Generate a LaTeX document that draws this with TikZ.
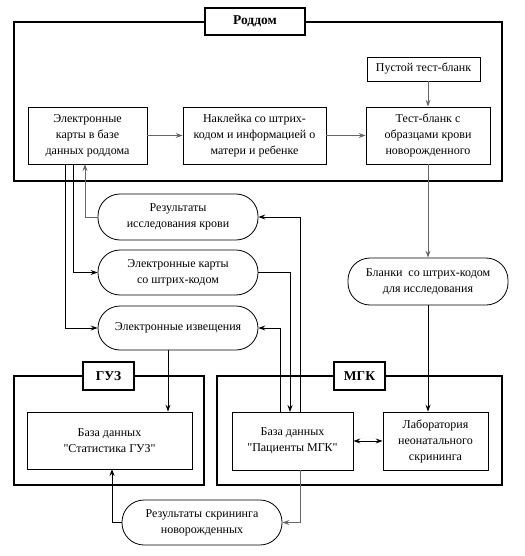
\documentclass[tikz,border=0pt]{standalone}
\usepackage{fontspec}
\setmainfont{Liberation Serif}
\newfontfamily\diagfont{Liberation Serif}
\usetikzlibrary{arrows.meta}
\begin{document}
\begin{tikzpicture}[x=1pt,y=-1pt,
  font=\diagfont\fontsize{12}{16}\selectfont,
  >={Stealth[length=7pt,width=5pt,inset=2.5pt]},
  box/.style={draw,line width=0.8pt,fill=white,align=center,inner sep=0pt},
  term/.style={draw,line width=0.8pt,fill=white,align=center,inner sep=0pt,rounded corners=22pt,minimum width=160pt},
  outer/.style={draw,line width=2.2pt,inner sep=0pt},
  title/.style={draw,line width=2pt,fill=white,inner sep=0pt,font=\diagfont\fontsize{13.5}{15}\selectfont\bfseries},
  arr/.style={->,line width=0.8pt},
  garr/.style={->,line width=0.9pt,draw=black!60},
  gline/.style={line width=0.9pt,draw=black!60}]
\useasboundingbox (0,0) rectangle (524,556);
% Роддом
\node[outer,minimum width=488pt,minimum height=159pt] (rod) at (258,101.5) {};
\node[title,minimum width=100pt,minimum height=27pt] (rodt) at (255,21.5) {Роддом};
\node[box,minimum width=113pt,minimum height=24pt] (empty) at (423.5,69) {Пустой тест-бланк};
\node[box,minimum width=119pt,minimum height=57pt] (b1) at (87.5,135.5) {Электронные\\карты в базе\\данных роддома};
\node[box,minimum width=143pt,minimum height=57pt] (b2) at (254.5,135.5) {Наклейка со штрих-\\кодом и информацией о\\матери и ребенке};
\node[box,minimum width=124pt,minimum height=57pt] (b3) at (428,135.5) {Тест-бланк с\\образцами крови\\новорожденного};
% terminals
\node[term,minimum height=46pt] (t1) at (178,217) {Результаты\\исследования крови};
\node[term,minimum height=45pt] (t2) at (178,272.5) {Электронные карты\\со штрих-кодом};
\node[term,minimum height=44pt] (t3) at (178,328) {Электронные извещения};
\node[term,minimum height=47pt] (t4) at (428,281.5) {Бланки\ \ со штрих-кодом\\для исследования};
\node[term,minimum height=45pt] (t5) at (202,522.5) {Результаты скрининга\\новорожденных};
% ГУЗ
\node[outer,minimum width=190pt,minimum height=109pt] (guz) at (109,430.5) {};
\node[title,minimum width=51pt,minimum height=28pt] (guzt) at (108.5,376) {ГУЗ};
\node[box,minimum width=165pt,minimum height=57pt] (gdb) at (109.5,440.5) {База данных\\"Статистика ГУЗ"};
% МГК
\node[outer,minimum width=285pt,minimum height=109pt] (mgk) at (359.5,430.5) {};
\node[title,minimum width=51pt,minimum height=28pt] (mgkt) at (359.5,376) {МГК};
\node[box,minimum width=121pt,minimum height=58pt] (mdb) at (292.5,441) {База данных\\"Пациенты МГК"};
\node[box,minimum width=105pt,minimum height=58pt] (lab) at (435.5,441) {Лаборатория\\неонатального\\скрининга};
% coordinates
\coordinate (b1a) at (65,164);
\coordinate (b1b) at (73,164);
\coordinate (b1c) at (85,164);
\coordinate (m1) at (300,412);
\coordinate (m2) at (290,412);
\coordinate (m3) at (280,412);
\coordinate (m4) at (300,470);
\coordinate (t3s) at (168,350);
\coordinate (g1) at (112,469);
% connectors
\draw[garr] (b1.east) -- (b2.west);
\draw[garr] (b2.east) -- (b3.west);
\draw[garr] (empty.south -| b3.north) -- (b3.north);
\draw[garr] (b3.south) -- (t4.north);
\draw[arr] (t4.south) -- (t4.south |- lab.north);
\draw[arr] (b1a) |- (t3);
\draw[arr] (b1b) |- (t2);
\draw[garr] (t1) -| (b1c);
\draw[arr] (m1) |- (t1);
\draw[arr] (t2) -| (m2);
\draw[arr] (m3) |- (t3);
\draw[arr] (t3s) -- (t3s |- gdb.north);
\draw[garr] (m4) |- (t5);
\draw[arr] (t5) -| (g1);
\draw[<->,line width=0.8pt] (mdb.east) -- (lab.west);
\end{tikzpicture}
\end{document}
